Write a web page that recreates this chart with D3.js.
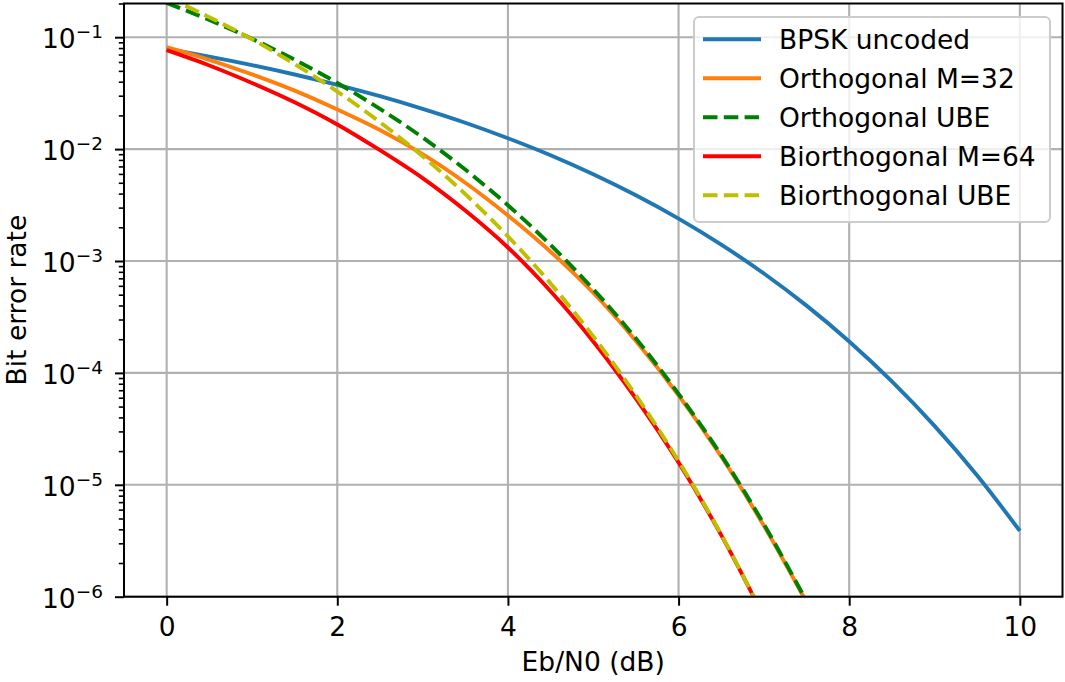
<!DOCTYPE html>
<html>
<head>
<meta charset="utf-8">
<script src="https://cdn.jsdelivr.net/npm/d3@7"></script>
<style>
  html, body { margin: 0; padding: 0; background: #ffffff; }
  svg { display: block; }
  text { font-family: "DejaVu Sans", sans-serif; fill: #000; }
</style>
</head>
<body>
<svg id="chart" width="1065" height="682"></svg>
<script>
// ---- data ----
const snrAll = [0,0.5,1,1.5,2,2.5,3,3.5,4,4.5,5,5.5,6,6.5,7,7.5,8,8.5,9,9.5,10];
const bpsk = [0.0786,0.0671,0.0563,0.0464,0.0375,0.0297,0.0229,0.0172,0.0125,0.0088,0.00595,0.00386,0.00239,0.00140,7.73e-4,3.99e-4,1.91e-4,8.4e-5,3.36e-5,1.21e-5,3.87e-6];

const snrOrth = [0,0.5,1,1.5,2,2.5,3,3.5,4,4.5,5,5.5,6,6.5,7,7.5];
const orthExact = [0.0814,0.0628,0.0465,0.0333,0.0226,0.0148,0.0090,0.0050,0.00255,0.00121,5.2e-4,1.93e-4,6.3e-5,1.79e-5,4.3e-6,8.9e-7];
const orthUBE = [0.2027,0.1427,0.0968,0.0629,0.0390,0.0229,0.0127,0.00656,0.00315,0.00139,5.6e-4,2.03e-4,6.5e-5,1.84e-5,4.45e-6,9.1e-7];

const snrBi = [0,0.5,1,1.5,2,2.5,3,3.5,4,4.5,5,5.5,6,6.5,7];
const biExact = [0.0766,0.0559,0.0390,0.0262,0.0166,0.00977,0.00550,0.00282,0.00132,5.37e-4,1.91e-4,5.89e-5,1.58e-5,3.55e-6,6.6e-7];
const biUBE = [0.229,0.151,0.0960,0.0575,0.0327,0.0174,0.00864,0.00396,0.00166,6.3e-4,2.12e-4,6.3e-5,1.63e-5,3.6e-6,6.7e-7];

const seriesNames = ["BPSK uncoded","Orthogonal M=32","Orthogonal UBE","Biorthogonal M=64","Biorthogonal UBE"];
const seriesColors = ["#1f77b4","#ff7f0e","#008000","#ff0000","#bfbf00"];
const seriesDashed = [false,false,true,false,true];

const xTicks = [0,2,4,6,8,10];
const yTickExps = [-1,-2,-3,-4,-5,-6];
const xLabel = "Eb/N0 (dB)";
const yLabel = "Bit error rate";

// ---- layout ----
const L = 124, R = 1062.5, T = 3.5, B = 596.7;
const FS = 26.5;
const svg = d3.select("#chart");
const x = d3.scaleLinear().domain([-0.5, 10.5]).range([L, R]);
const y = d3.scaleLog().domain([1e-6, 0.2]).range([B, T]);

const lw = 3.9;
const gridColor = "#b0b0b0";

// grid
const grid = svg.append("g");
xTicks.forEach(t => {
  grid.append("line").attr("x1", x(t)).attr("x2", x(t)).attr("y1", T).attr("y2", B)
    .attr("stroke", gridColor).attr("stroke-width", 2.1);
});
yTickExps.forEach(e => {
  const v = Math.pow(10, e);
  grid.append("line").attr("x1", L).attr("x2", R).attr("y1", y(v)).attr("y2", y(v))
    .attr("stroke", gridColor).attr("stroke-width", 2.1);
});

// clip
svg.append("defs").append("clipPath").attr("id", "clip")
  .append("rect").attr("x", L).attr("y", T).attr("width", R - L).attr("height", B - T);

const allSeries = [
  {x: snrAll, y: bpsk},
  {x: snrOrth, y: orthExact},
  {x: snrOrth, y: orthUBE},
  {x: snrBi, y: biExact},
  {x: snrBi, y: biUBE}
];

const line = d3.line().x(d => x(d[0])).y(d => y(d[1])).curve(d3.curveCatmullRom.alpha(0.5));
const plot = svg.append("g").attr("clip-path", "url(#clip)");
allSeries.forEach((s, i) => {
  const pts = s.x.map((v, j) => [v, s.y[j]]);
  const p = plot.append("path").datum(pts).attr("d", line)
    .attr("fill", "none").attr("stroke", seriesColors[i]).attr("stroke-width", lw)
    .attr("stroke-linejoin", "round").attr("stroke-linecap", "butt");
  if (seriesDashed[i]) p.attr("stroke-dasharray", "14.5,6.3");
});

// x axis
const xAxis = d3.axisBottom(x).tickValues(xTicks).tickSize(9).tickPadding(11).tickFormat(d3.format("d"));
const gx = svg.append("g").attr("transform", `translate(0,${B})`).call(xAxis);
gx.select(".domain").remove();
gx.selectAll(".tick line").attr("stroke", "#000").attr("stroke-width", 2);
gx.selectAll(".tick text").attr("font-size", FS).attr("font-family", "DejaVu Sans").attr("fill", "#000");

// y axis major
const yMajor = yTickExps.map(e => Math.pow(10, e));
const yAxis = d3.axisLeft(y).tickValues(yMajor).tickSize(9).tickFormat("");
const gy = svg.append("g").attr("transform", `translate(${L},0)`).call(yAxis);
gy.select(".domain").remove();
gy.selectAll(".tick line").attr("stroke", "#000").attr("stroke-width", 2);

// y minor ticks
const yMinor = [];
for (let e = -6; e <= -1; e++) {
  for (let m = 2; m <= 9; m++) {
    const v = m * Math.pow(10, e);
    if (v <= 0.2 + 1e-12) yMinor.push(v);
  }
}
const yAxisMinor = d3.axisLeft(y).tickValues(yMinor).tickSize(5.2).tickFormat("");
const gym = svg.append("g").attr("transform", `translate(${L},0)`).call(yAxisMinor);
gym.select(".domain").remove();
gym.selectAll(".tick line").attr("stroke", "#000").attr("stroke-width", 1.6);

// y tick labels with superscripts
yTickExps.forEach(e => {
  const v = Math.pow(10, e);
  const t = svg.append("text").attr("x", 103).attr("y", y(v) + 11.3)
    .attr("text-anchor", "end").attr("font-size", FS);
  t.append("tspan").text("10");
  t.append("tspan").attr("font-size", 18.5).attr("dy", -10.5).text("\u2212" + Math.abs(e));
});

// spines
svg.append("rect").attr("x", L).attr("y", T).attr("width", R - L).attr("height", B - T)
  .attr("fill", "none").attr("stroke", "#000").attr("stroke-width", 2);

// axis labels
svg.append("text").attr("x", (L + R) / 2).attr("y", 671).attr("text-anchor", "middle")
  .attr("font-size", FS).text(xLabel);
svg.append("text").attr("transform", `translate(26,${(T + B) / 2}) rotate(-90)`)
  .attr("text-anchor", "middle").attr("font-size", FS).text(yLabel);

// legend
const lg = svg.append("g");
lg.append("rect").attr("x", 694).attr("y", 17).attr("width", 356).attr("height", 205)
  .attr("rx", 5).attr("ry", 5).attr("fill", "#ffffff").attr("fill-opacity", 0.8)
  .attr("stroke", "#cccccc").attr("stroke-width", 2);
seriesNames.forEach((name, i) => {
  const cy = 39.3 + i * 39;
  const l = lg.append("line").attr("x1", 703).attr("x2", 761).attr("y1", cy).attr("y2", cy)
    .attr("stroke", seriesColors[i]).attr("stroke-width", lw);
  if (seriesDashed[i]) l.attr("stroke-dasharray", "14.5,6.3");
  lg.append("text").attr("x", 779).attr("y", cy + 10).attr("font-size", FS).text(name);
});
</script>
</body>
</html>
